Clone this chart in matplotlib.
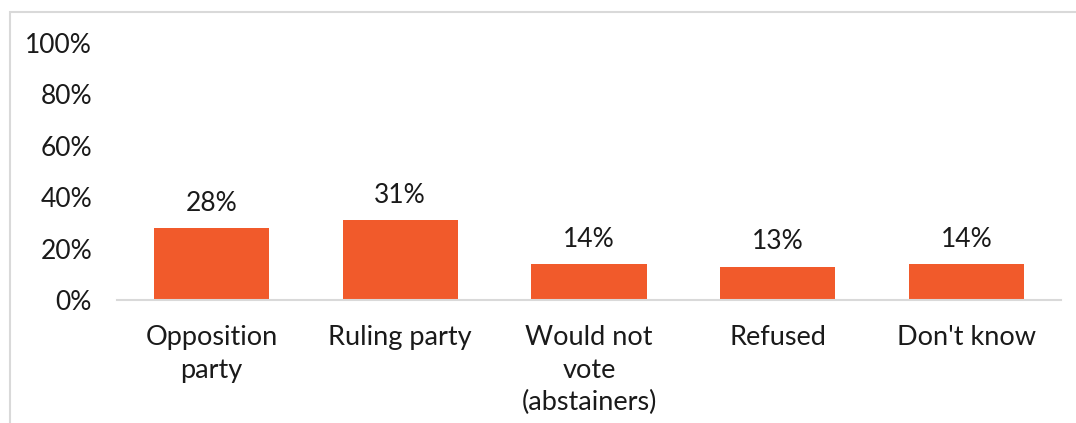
import matplotlib
matplotlib.use("Agg")
import matplotlib.pyplot as plt
from matplotlib.patches import Rectangle
from matplotlib.ticker import PercentFormatter

categories = ["Opposition\nparty", "Ruling party", "Would not\nvote\n(abstainers)", "Refused", "Don't know"]
shares = [0.28, 0.31, 0.14, 0.13, 0.14]
y_ticks = [0, 0.2, 0.4, 0.6, 0.8, 1.0]

bar_color = "#F15A2B"
grey = "#D9D9D9"
text_color = "#1a1a1a"

plt.rcParams["font.family"] = ["Lato", "DejaVu Sans"]

fig = plt.figure(figsize=(10.76, 4.23), dpi=100)
ax = fig.add_axes([117 / 1076, 1 - 300 / 423, (1061 - 117) / 1076, (300 - 43) / 423])

# chart border (only left and top edges fall inside the picture)
fig.patches.append(Rectangle((10 / 1076, -0.2), 1.2, 1 - 12 / 423 + 0.2,
                             transform=fig.transFigure, fill=False,
                             edgecolor=grey, linewidth=1.5, zorder=0))

x = range(len(categories))
bars = ax.bar(x, shares, width=0.61, color=bar_color, zorder=2)
for b, v in zip(bars, shares):
    ax.annotate(f"{v:.0%}", (b.get_x() + b.get_width() / 2, v),
                xytext=(0, 9), textcoords="offset points",
                ha="center", va="bottom", fontsize=19, color=text_color)

ax.set_xlim(-0.5, len(categories) - 0.5)
ax.set_ylim(0, 1.0)
ax.set_yticks(y_ticks)
ax.yaxis.set_major_formatter(PercentFormatter(1.0, decimals=0))
ax.set_xticks(list(x))
ax.set_xticklabels(categories, linespacing=1.38)
ax.tick_params(axis="y", length=0, pad=18, labelsize=19, labelcolor=text_color)
ax.tick_params(axis="x", length=0, pad=18, labelsize=19.5, labelcolor=text_color)

for s in ["top", "right", "left"]:
    ax.spines[s].set_visible(False)
ax.spines["bottom"].set_color(grey)
ax.spines["bottom"].set_linewidth(1.5)
ax.patch.set_alpha(0)

fig.savefig("out.png", dpi=100)
